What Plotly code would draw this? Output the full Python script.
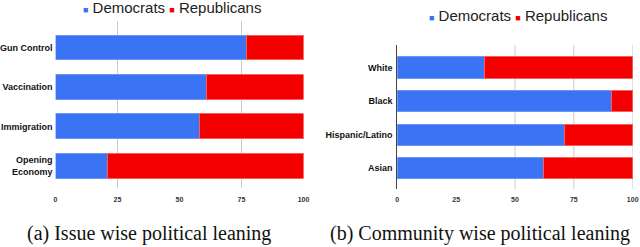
import plotly.graph_objects as go

# ---- data ----
series_names = ["Democrats", "Republicans"]
issues = ["Gun Control", "Vaccination", "Immigration", "Opening<br>Economy"]
issue_dem = [77, 61, 58, 21]
issue_rep = [23, 39, 42, 79]
communities = ["White", "Black", "Hispanic/Latino", "Asian"]
comm_dem = [37, 91, 71, 62]
comm_rep = [63, 9, 29, 38]
x_ticks = [0, 25, 50, 75, 100]
left_grid = [25, 75]
right_grid = [50, 75, 100]
captions = ["(a) Issue wise political leaning", "(b) Community wise political leaning"]

BLUE = "#3a73f4"
RED = "#f50000"
W, H = 640, 247

def px_x(p):
    return p / W

def px_y(p):
    return 1 - p / H

fig = go.Figure()
for name, vals, col, edge in [(series_names[0], issue_dem, BLUE, "#6c97f6"),
                              (series_names[1], issue_rep, RED, "#f86060")]:
    fig.add_trace(go.Bar(y=issues, x=vals, orientation="h", name=name,
                         marker=dict(color=col, line=dict(color=edge, width=1)),
                         xaxis="x", yaxis="y", showlegend=False))
for name, vals, col, edge in [(series_names[0], comm_dem, BLUE, "#6c97f6"),
                              (series_names[1], comm_rep, RED, "#f86060")]:
    fig.add_trace(go.Bar(y=communities, x=vals, orientation="h", name=name,
                         marker=dict(color=col, line=dict(color=edge, width=1)),
                         xaxis="x2", yaxis="y2", showlegend=False))

tickfont = dict(family="Liberation Sans, Arial", size=7, color="#333", weight="bold")
catfont = dict(family="Liberation Sans, Arial", size=9, color="#111", weight="bold")

common = dict(showgrid=False, zeroline=False, ticks="", automargin=False)
fig.update_layout(
    template="none",
    width=W, height=H, autosize=False,
    margin=dict(l=0, r=0, t=0, b=0, pad=0),
    paper_bgcolor="white", plot_bgcolor="white",
    barmode="stack",
    bargap=0.37,
    xaxis=dict(domain=[px_x(55.5), px_x(303.5)], range=[0, 100], tickvals=x_ticks,
               showline=False, tickfont=tickfont, anchor="y", ticklabelstandoff=6, **common),
    yaxis=dict(domain=[px_y(188), px_y(21)], range=[3.56, -0.67], type="category",
               showline=False, tickfont=catfont, anchor="x", ticklabelstandoff=2, **common),
    xaxis2=dict(domain=[px_x(397.3), px_x(632.7)], range=[0, 100], tickvals=x_ticks,
                showline=False, tickfont=tickfont, anchor="y2", ticklabelstandoff=5, **common),
    yaxis2=dict(domain=[px_y(189), px_y(45)], range=[3.62, -0.67], type="category",
                showline=True, linecolor="#444", linewidth=1,
                tickfont=catfont, anchor="x2", ticklabelstandoff=2, **common),
)

shapes = []
for g in left_grid:
    shapes.append(dict(type="line", xref="x", yref="y domain", x0=g, x1=g, y0=0, y1=1,
                       line=dict(color="#cccccc", width=1), layer="below"))
for g in right_grid:
    shapes.append(dict(type="line", xref="x2", yref="y2 domain", x0=g, x1=g, y0=0, y1=1,
                       line=dict(color="#cccccc", width=1), layer="below"))
fig.update_layout(shapes=shapes)

def legend_text():
    sq = "<span style='color:{};font-size:9px'>■</span>"
    return (sq.format(BLUE) + f" {series_names[0]} " +
            sq.format(RED) + f" {series_names[1]}")

legfont = dict(family="Liberation Sans, Arial", size=15, color="#222")
fig.add_annotation(x=px_x(172), y=px_y(7), xref="paper", yref="paper", text=legend_text(),
                   showarrow=False, font=legfont, xanchor="center", yanchor="middle")
fig.add_annotation(x=px_x(518), y=px_y(16), xref="paper", yref="paper", text=legend_text(),
                   showarrow=False, font=legfont, xanchor="center", yanchor="middle")

capfont = dict(family="Liberation Serif, Times New Roman, serif", size=20, color="#111")
fig.add_annotation(x=px_x(149), y=px_y(233), xref="paper", yref="paper", text=captions[0],
                   showarrow=False, font=capfont, xanchor="center", yanchor="middle")
fig.add_annotation(x=px_x(480), y=px_y(233), xref="paper", yref="paper", text=captions[1],
                   showarrow=False, font=capfont, xanchor="center", yanchor="middle")

fig.write_html("out.html", config={"displayModeBar": False},
               post_script="document.body.style.margin='0';document.body.style.overflow='hidden';")
